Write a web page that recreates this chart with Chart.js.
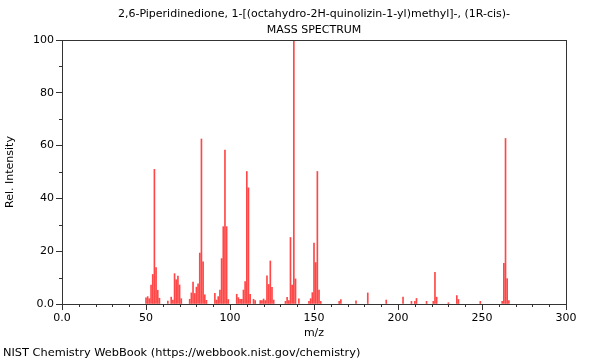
<!DOCTYPE html>
<html><head><meta charset="utf-8">
<script src="https://cdn.jsdelivr.net/npm/chart.js@4"></script>
<style>html,body{margin:0;padding:0;background:#fff}#wrap{width:600px;height:360px}</style>
</head><body><div id="wrap"><canvas id="c" width="600" height="360"></canvas></div>
<script>
const titleLines = ["2,6-Piperidinedione, 1-[(octahydro-2H-quinolizin-1-yl)methyl]-, (1R-cis)-", "MASS SPECTRUM"];
const xTitle = "m/z";
const yTitle = "Rel. Intensity";
const footer = "NIST Chemistry WebBook (https://webbook.nist.gov/chemistry)";
const mz = [50,51,52,53,54,55,56,57,58,63,65,66,67,68,69,70,71,76,77,78,79,80,81,82,83,84,85,86,
  91,92,93,94,95,96,97,98,99,104,105,106,107,108,109,110,111,112,114,115,118,119,120,121,122,123,124,125,126,
  133,134,135,136,137,138,139,141,147,148,149,150,151,152,153,154,165,166,175,182,193,203,208,210,211,217,221,222,223,230,235,236,249,262,263,264,265,266];
const intensity = [2.3,2.8,2,7.2,11.2,51,13.8,5.2,2.2,1.1,2.6,1.5,11.5,9.2,10.6,7.2,2,1.8,4.2,8.3,4,6.4,7.6,19.3,62.5,16,3.5,1.4,
  4,1.5,2.8,5.3,17.2,29.3,58.3,29.3,1.7,3.7,2.4,1.8,1.8,5.3,8.5,50.2,44,3.7,1.8,1.3,1.3,1.3,1.9,1.3,10.7,7.4,16.3,6.3,1.5,
  1,2.5,1.3,25.2,7.2,100,9.5,2,1,2,4.3,23.1,15.7,50.2,5.3,1,1,1.7,1.2,4.2,1.5,2.6,1,1,2.1,1,1,12,2.6,0.5,3.2,1.7,1,1,15.4,62.7,9.6,1.3];
const xMajor = [0,50,100,150,200,250,300];
const yMajor = [0,20,40,60,80,100];

const FONT = "DejaVu Sans";
const decor = {
  id:'decor',
  afterDraw(chart){
    const ctx = chart.ctx, a = chart.chartArea, xs = chart.scales.x, ys = chart.scales.y;
    ctx.save();
    ctx.strokeStyle = '#333'; ctx.lineWidth = 1;
    ctx.strokeRect(Math.round(a.left)+0.5, Math.round(a.top)+0.5, Math.round(a.right-a.left), Math.round(a.bottom-a.top));
    ctx.beginPath();
    for (let v=0; v<=300; v+=10){ if (v%50===0) continue; const px=Math.round(xs.getPixelForValue(v))+0.5; ctx.moveTo(px,Math.round(a.bottom)); ctx.lineTo(px,Math.round(a.bottom)+3); }
    for (let v=0; v<=100; v+=10){ if (v%20===0) continue; const py=Math.round(ys.getPixelForValue(v))+0.5; ctx.moveTo(Math.round(a.left),py); ctx.lineTo(Math.round(a.left)-3,py); }
    ctx.stroke();
    ctx.fillStyle = '#000';
    ctx.font = `11px "${FONT}"`;
    ctx.textAlign='center'; ctx.textBaseline='middle';
    const cx=(a.left+a.right)/2;
    ctx.fillText(titleLines[0], cx, 14);
    ctx.fillText(titleLines[1], cx, 30);
    ctx.fillText(xTitle, cx, 333);
    ctx.save(); ctx.translate(10,(a.top+a.bottom)/2); ctx.rotate(-Math.PI/2); ctx.fillText(yTitle,0,0); ctx.restore();
    ctx.textAlign='left';
    ctx.font = `11.35px "${FONT}"`;
    ctx.fillText(footer, 3, 353);
    ctx.restore();
  }
};

new Chart(document.getElementById('c'), {
  type:'bar',
  data:{ datasets:[{ data: mz.map((m,i)=>({x:m,y:intensity[i]})), backgroundColor:'rgba(255,0,0,0.72)', barThickness:1, borderWidth:0 }]},
  options:{
    responsive:false, animation:false, devicePixelRatio:1,
    layout:{padding:{left:0,right:34,top:40,bottom:0}},
    plugins:{legend:{display:false},tooltip:{enabled:false},title:{display:false}},
    scales:{
      x:{ type:'linear', min:0, max:300, offset:false,
        afterBuildTicks(s){ s.ticks = xMajor.map(v=>({value:v})); },
        afterFit(s){ s.height = 56; },
        grid:{drawOnChartArea:false, tickLength:6, color:'#333', offset:false},
        border:{display:false},
        ticks:{ color:'#000', font:{family:FONT,size:11}, padding:2, maxRotation:0, callback:v=> v===0?'0.0':String(v) } },
      y:{ min:0, max:100,
        afterBuildTicks(s){ s.ticks = yMajor.map(v=>({value:v})); },
        afterFit(s){ s.width = 62; },
        grid:{drawOnChartArea:false, tickLength:6, color:'#333'},
        border:{display:false},
        ticks:{ color:'#000', font:{family:FONT,size:11}, padding:2, callback:v=> v===0?'0.0':String(v) } }
    }
  },
  plugins:[decor]
});
</script></body></html>
